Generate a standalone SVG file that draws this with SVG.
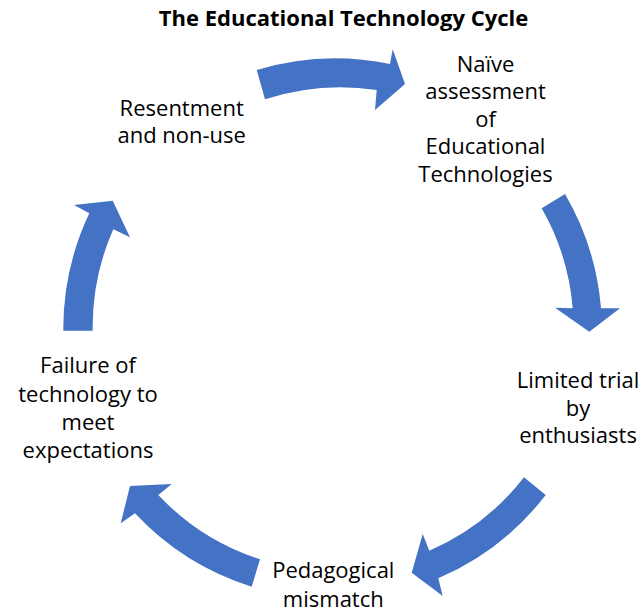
<svg xmlns="http://www.w3.org/2000/svg" width="643" height="615" viewBox="0 0 643 615">
<style>
.bg{fill:#ffffff}
.arrow{fill:#4472C4;stroke:none}
.title{font-family:"Open Sans","Liberation Sans",sans-serif;font-size:22px;font-weight:bold;fill:#000;text-anchor:middle}
.lbl{font-family:"Open Sans","Liberation Sans",sans-serif;font-size:22px;fill:#000;text-anchor:middle}
</style>
<rect class="bg" x="0" y="0" width="643" height="615"/>
<text class="title" x="343.5" y="26">The Educational Technology Cycle</text>
<g id="connectors">
<path class="arrow" d="M256.7,70 A270,270 0 0,1 390,64 L392.7,49.3 L405,84 L375,110 L376.7,90 A241,241 0 0,0 265,99.3 Z"/>
<path class="arrow" d="M565,194 A270,270 0 0,1 601,308.3 L620,308.3 L589.3,331.7 L555,307.7 L572.7,308.3 A241,241 0 0,0 541.7,208.3 Z"/>
<path class="arrow" d="M545.7,495 A270,270 0 0,1 438.3,578.3 L442.7,596 L411.7,572.7 L422.7,534 L429.3,550.7 A241,241 0 0,0 524,477.3 Z"/>
<path class="arrow" d="M251.7,586.7 A270,270 0 0,1 135,513.3 L120.7,523.3 L130,486 L171.7,484 L158.3,495 A241,241 0 0,0 260,559.3 Z"/>
<path class="arrow" d="M63.3,330.7 A270,270 0 0,1 89.3,213.3 L74,205 L112.7,200.7 L130,237.3 L113.3,229.3 A241,241 0 0,0 92.7,330.7 Z"/>
</g>
<g id="node-naive">
<text class="lbl" x="485.5" y="71.7">Naïve</text>
<text class="lbl" x="485.5" y="99.2">assessment</text>
<text class="lbl" x="485.5" y="126.7">of</text>
<text class="lbl" x="485.5" y="154.2">Educational</text>
<text class="lbl" x="485.5" y="181.7">Technologies</text>
</g>
<g id="node-limited">
<text class="lbl" x="578" y="388.3">Limited trial</text>
<text class="lbl" x="578" y="415.5">by</text>
<text class="lbl" x="578" y="442.7">enthusiasts</text>
</g>
<g id="node-pedagogical">
<text class="lbl" x="333.3" y="578">Pedagogical</text>
<text class="lbl" x="333.3" y="607">mismatch</text>
</g>
<g id="node-failure">
<text class="lbl" x="88" y="373.3">Failure of</text>
<text class="lbl" x="88" y="401.6">technology to</text>
<text class="lbl" x="88" y="429.9">meet</text>
<text class="lbl" x="88" y="458.2">expectations</text>
</g>
<g id="node-resentment">
<text class="lbl" x="181.7" y="115.7">Resentment</text>
<text class="lbl" x="181.7" y="143.3">and non-use</text>
</g>
</svg>
